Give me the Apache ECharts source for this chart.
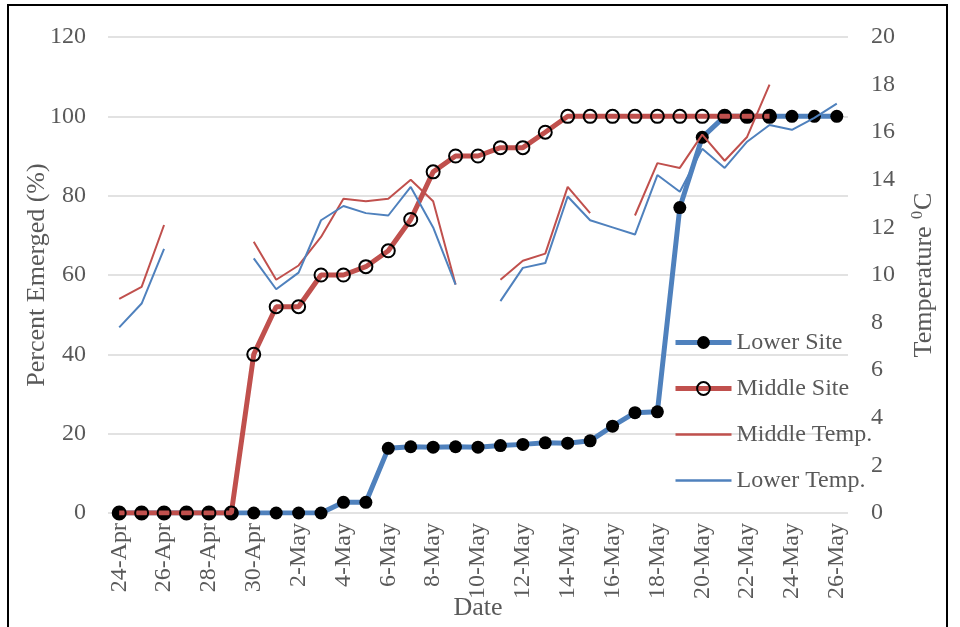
<!DOCTYPE html>
<html>
<head>
<meta charset="utf-8">
<script src="https://cdn.jsdelivr.net/npm/echarts@6/dist/echarts.min.js"></script>
<style>
  html, body { margin: 0; padding: 0; background: #fff; }
  #chart { width: 960px; height: 627px; }
</style>
</head>
<body>
<div id="chart"></div>
<script>
// Daily dates of the survey
const dates = [
  '24-Apr','25-Apr','26-Apr','27-Apr','28-Apr','29-Apr','30-Apr',
  '1-May','2-May','3-May','4-May','5-May','6-May','7-May','8-May','9-May',
  '10-May','11-May','12-May','13-May','14-May','15-May','16-May','17-May',
  '18-May','19-May','20-May','21-May','22-May','23-May','24-May','25-May','26-May'
];

// Cumulative emergence (%)
const lowerSite = [
  0, 0, 0, 0, 0, 0, 0, 0, 0, 0,
  2.7, 2.7,
  16.3, 16.7, 16.6, 16.7, 16.6, 17.0, 17.3, 17.7, 17.6, 18.2, 21.9, 25.3, 25.5,
  77.0, 94.7,
  100, 100, 100, 100, 100, 100
];
const middleSite = [
  0, 0, 0, 0, 0, 0,
  40, 52, 52, 60, 60, 62.1, 66.1, 74, 86, 90, 90, 92.1, 92.1, 96,
  100, 100, 100, 100, 100, 100, 100, 100, 100, 100,
  null, null, null
];

// Daily temperature (°C), gaps where no reading was logged
const middleTemp = [
  9.0, 9.5, 12.1, null, null, null,
  11.4, 9.8, 10.4, 11.6, 13.2, 13.1, 13.2, 14.0, 13.1, 9.6,
  null,
  9.8, 10.6, 10.9, 13.7, 12.6,
  null,
  12.5, 14.7, 14.5, 15.9, 14.8, 15.8, 18.0,
  null, null, null
];
const lowerTemp = [
  7.8, 8.8, 11.1, null, null, null,
  10.7, 9.4, 10.1, 12.3, 12.9, 12.6, 12.5, 13.7, 12.0, 9.6,
  null,
  8.9, 10.3, 10.5, 13.3, 12.3, 12.0, 11.7, 14.2, 13.5, 15.3, 14.5, 15.6, 16.3,
  16.1, 16.6, 17.2
];

const BLUE = '#4F81BD';
const RED = '#C0504D';
const TEXT = '#595959';
const GRID = '#D9D9D9';
const FONT = '"Liberation Serif", "DejaVu Serif", serif';
const NO_SYMBOL = { color: 'rgba(0,0,0,0)', borderWidth: 0 };

const chart = echarts.init(document.getElementById('chart'));

chart.setOption({
  animation: false,
  backgroundColor: '#fff',
  textStyle: { fontFamily: FONT },
  graphic: [{
    type: 'rect',
    shape: { x: 8, y: 5, width: 939, height: 640 },
    style: { fill: 'none', stroke: '#000', lineWidth: 2 },
    silent: true,
    z: 100
  }],
  grid: { left: 108, right: 112, top: 37, bottom: 114, outerBoundsMode: 'none' },
  legend: {
    orient: 'vertical',
    left: 668,
    top: 325,
    itemWidth: 56,
    itemHeight: 16,
    itemGap: 21,
    textStyle: { fontFamily: FONT, fontSize: 24, color: TEXT, lineHeight: 25 },
    data: [
      { name: 'Lower Site', lineStyle: { width: 5 } },
      { name: 'Middle Site', lineStyle: { width: 5 } },
      { name: 'Middle Temp.', lineStyle: { width: 2.5 }, itemStyle: NO_SYMBOL },
      { name: 'Lower Temp.', lineStyle: { width: 2.5 }, itemStyle: NO_SYMBOL }
    ]
  },
  xAxis: {
    type: 'category',
    data: dates,
    boundaryGap: true,
    name: 'Date',
    nameLocation: 'middle',
    nameGap: 82,
    nameMoveOverlap: false,
    nameTextStyle: { fontFamily: FONT, fontSize: 26, color: TEXT },
    axisLine: { show: false },
    axisTick: { show: false },
    axisLabel: {
      interval: 1,
      rotate: 90,
      margin: 10,
      fontFamily: FONT,
      fontSize: 24,
      color: TEXT
    },
    splitLine: { show: false }
  },
  yAxis: [{
    type: 'value',
    min: 0,
    max: 120,
    interval: 20,
    name: 'Percent Emerged (%)',
    nameLocation: 'middle',
    nameGap: 58,
    nameMoveOverlap: false,
    nameTextStyle: { fontFamily: FONT, fontSize: 26, color: TEXT },
    axisLine: { show: false },
    axisTick: { show: false },
    axisLabel: { margin: 22, fontFamily: FONT, fontSize: 24, color: TEXT },
    splitLine: { lineStyle: { color: GRID, width: 1.5 } }
  }, {
    type: 'value',
    min: 0,
    max: 20,
    interval: 2,
    position: 'right',
    name: 'Temperature {sup|0}C',
    nameLocation: 'middle',
    nameGap: 62,
    nameRotate: 90,
    nameTextStyle: {
      fontFamily: FONT, fontSize: 26, color: TEXT,
      rich: {
        sup: { fontFamily: FONT, fontSize: 16, color: TEXT, verticalAlign: 'top', padding: [0, 1, 12, 1] }
      }
    },
    axisLine: { show: false },
    axisTick: { show: false },
    axisLabel: { margin: 23, fontFamily: FONT, fontSize: 24, color: TEXT },
    splitLine: { show: false }
  }],
  series: [{
    name: 'Lower Site',
    type: 'line',
    yAxisIndex: 0,
    data: lowerSite,
    symbol: 'circle',
    symbolSize: 13,
    lineStyle: { color: BLUE, width: 5 },
    itemStyle: { color: '#000', borderColor: '#000', borderWidth: 0 },
    z: 2
  }, {
    name: 'Middle Site',
    type: 'line',
    yAxisIndex: 0,
    data: middleSite,
    symbol: 'circle',
    symbolSize: 13,
    lineStyle: { color: RED, width: 5 },
    itemStyle: { color: 'rgba(0,0,0,0)', borderColor: '#000', borderWidth: 2 },
    z: 3
  }, {
    name: 'Middle Temp.',
    type: 'line',
    yAxisIndex: 1,
    data: middleTemp,
    symbol: 'none',
    lineStyle: { color: RED, width: 2 },
    itemStyle: { color: RED },
    z: 4
  }, {
    name: 'Lower Temp.',
    type: 'line',
    yAxisIndex: 1,
    data: lowerTemp,
    symbol: 'none',
    lineStyle: { color: BLUE, width: 2 },
    itemStyle: { color: BLUE },
    z: 5
  }]
});
</script>
</body>
</html>
